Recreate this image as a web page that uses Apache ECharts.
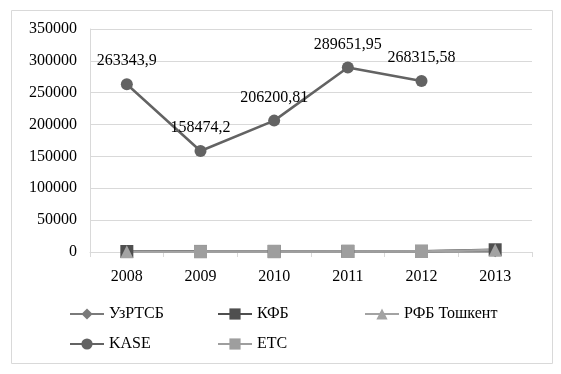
<!DOCTYPE html>
<html>
<head>
<meta charset="utf-8">
<script src="https://cdn.jsdelivr.net/npm/echarts@6/dist/echarts.min.js"></script>
<style>
html,body{margin:0;padding:0;background:#fff;}
#chart{width:561px;height:374px;}
</style>
</head>
<body>
<div id="chart"></div>
<script>
var years = ['2008', '2009', '2010', '2011', '2012', '2013'];
var uzrtsb = [500, 600, 700, 800, 900, 1000];
var kfb = [800, 900, 1000, 1100, 1200, 3500];
var rfb = [300, 400, 500, 600, 700, 3000];
var kase = [263343.9, 158474.2, 206200.81, 289651.95, 268315.58, null];
var etc = [null, 700, 800, 900, 1000, null];
var seriesNames = ['УзРТСБ', 'КФБ', 'РФБ Тошкент', 'KASE', 'ETC'];

var font = 'Liberation Serif';
var chart = echarts.init(document.getElementById('chart'));

function mkSeries(name, data, symbol, color, size, extra) {
  var s = {
    name: name, type: 'line', data: data, symbol: symbol, symbolSize: size,
    lineStyle: {color: color, width: 2.5}, itemStyle: {color: color},
    connectNulls: false, animation: false
  };
  if (extra) for (var k in extra) s[k] = extra[k];
  return s;
}

function legendAt(name, left, top) {
  return {
    data: [name], left: left, top: top, itemWidth: 34, itemHeight: 14, itemGap: 5,
    textStyle: {fontFamily: font, fontSize: 16, color: '#000'}, selectedMode: false
  };
}

chart.setOption({
  animation: false,
  graphic: [{
    type: 'rect', shape: {x: 11.5, y: 10.5, width: 541, height: 353},
    style: {fill: 'none', stroke: '#d9d9d9', lineWidth: 1}, silent: true
  }],
  grid: {left: 90, right: 29, top: 29, bottom: 122},
  legend: [
    legendAt(seriesNames[0], 64, 301),
    legendAt(seriesNames[1], 212, 301),
    legendAt(seriesNames[2], 359, 301),
    legendAt(seriesNames[3], 64, 331),
    legendAt(seriesNames[4], 212, 331)
  ],
  xAxis: {
    type: 'category', data: years, boundaryGap: true,
    axisLine: {lineStyle: {color: '#d9d9d9', width: 1}},
    axisTick: {show: true, lineStyle: {color: '#d9d9d9'}, length: 5},
    axisLabel: {fontFamily: font, fontSize: 16, color: '#000', margin: 17}
  },
  yAxis: {
    type: 'value', min: 0, max: 350000, interval: 50000,
    axisLine: {show: true, lineStyle: {color: '#d9d9d9'}},
    axisTick: {show: false},
    splitLine: {lineStyle: {color: '#d9d9d9', width: 1}},
    axisLabel: {fontFamily: font, fontSize: 16, color: '#000', margin: 13,
      formatter: function (v) { return String(v); }}
  },
  series: [
    mkSeries(seriesNames[0], uzrtsb, 'diamond', '#7a7a7a', 12),
    mkSeries(seriesNames[1], kfb, 'rect', '#4f4f4f', 13),
    mkSeries(seriesNames[2], rfb, 'triangle', '#a3a3a3', 13),
    mkSeries(seriesNames[3], kase, 'circle', '#636363', 12, {
      label: {
        show: true, position: 'top', distance: 9,
        fontFamily: font, fontSize: 16, color: '#000',
        formatter: function (p) { return String(p.value).replace('.', ','); }
      }
    }),
    mkSeries(seriesNames[4], etc, 'rect', '#9e9e9e', 13)
  ]
});
</script>
</body>
</html>
